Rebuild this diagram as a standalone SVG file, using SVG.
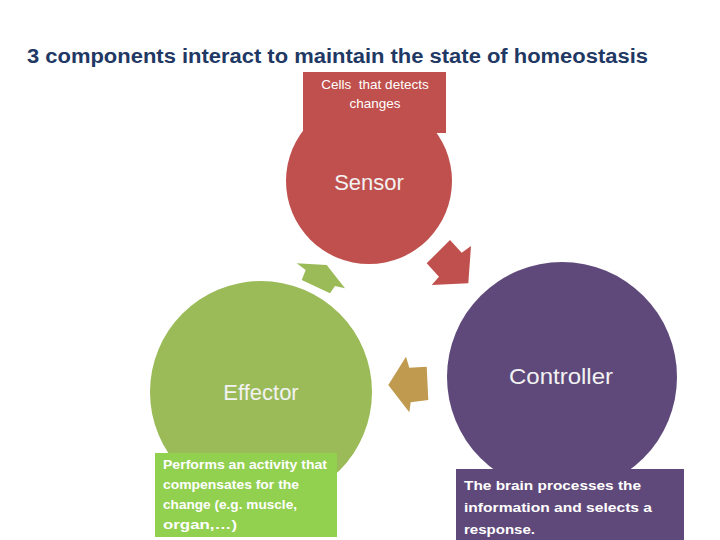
<svg xmlns="http://www.w3.org/2000/svg" width="720" height="540" viewBox="0 0 720 540">
<style>
  .title{font-family:"Liberation Sans",Arial,sans-serif;font-weight:bold;font-size:20px;fill:#1F3864}
  .big{font-family:"Liberation Sans",Arial,sans-serif;font-size:22px;fill:#F2F2F2;text-anchor:middle}
  .small{font-family:"Liberation Sans",Arial,sans-serif;font-size:13.5px;fill:#FFFFFF;white-space:pre}
  .bold{font-weight:bold}
</style>
<rect width="720" height="540" fill="#FFFFFF"/>
<text class="title" x="27" y="63" textLength="621" lengthAdjust="spacingAndGlyphs">3 components interact to maintain the state of homeostasis</text>

<g id="sensor">
  <circle cx="369" cy="181" r="83" fill="#C0504D"/>
  <rect x="303" y="72" width="143" height="61" fill="#C0504D"/>
  <text class="small" x="375" y="89" text-anchor="middle" xml:space="preserve">Cells  that detects</text>
  <text class="small" x="375" y="108" text-anchor="middle">changes</text>
  <text class="big" x="369" y="190">Sensor</text>
</g>

<g id="effector">
  <circle cx="261" cy="392" r="111" fill="#9BBB59"/>
  <rect x="155" y="453" width="182" height="84" fill="#92D050"/>
  <text class="small bold" x="163" y="469" font-size="13" textLength="164" lengthAdjust="spacingAndGlyphs">Performs an activity that</text>
  <text class="small bold" x="163" y="489" font-size="13" textLength="136" lengthAdjust="spacingAndGlyphs">compensates for the</text>
  <text class="small bold" x="163" y="509" font-size="13" textLength="134" lengthAdjust="spacingAndGlyphs">change (e.g. muscle,</text>
  <text class="small bold" x="163" y="529" font-size="13" textLength="74" lengthAdjust="spacingAndGlyphs">organ,…)</text>
  <text class="big" x="261" y="400" font-size="23">Effector</text>
</g>

<g id="controller">
  <circle cx="562" cy="377" r="115" fill="#5F497A"/>
  <rect x="456" y="469" width="228" height="71" fill="#5F497A"/>
  <text class="small bold" x="464" y="490" font-size="15" textLength="177" lengthAdjust="spacingAndGlyphs">The brain processes the</text>
  <text class="small bold" x="464" y="512" font-size="15" textLength="188" lengthAdjust="spacingAndGlyphs">information and selects a</text>
  <text class="small bold" x="464" y="534" font-size="15" textLength="71" lengthAdjust="spacingAndGlyphs">response.</text>
  <text class="big" x="561" y="384" textLength="104" lengthAdjust="spacingAndGlyphs">Controller</text>
</g>

<g id="connectors">
  <polygon points="426.7,263.3 450,240 461.7,252.7 471,246 468.3,283.3 431.7,285 439,276.7" fill="#C0504D"/>
  <polygon points="296.7,263.3 326.7,265 345,288.3 335,286 330,293.3 301.7,280 305.7,270" fill="#9BBB59"/>
  <polygon points="388.3,385 406,356.7 409.3,367.7 426.7,366.7 428.3,400 410.7,402.3 409.3,412.3" fill="#BF9A4F"/>
</g>
</svg>
